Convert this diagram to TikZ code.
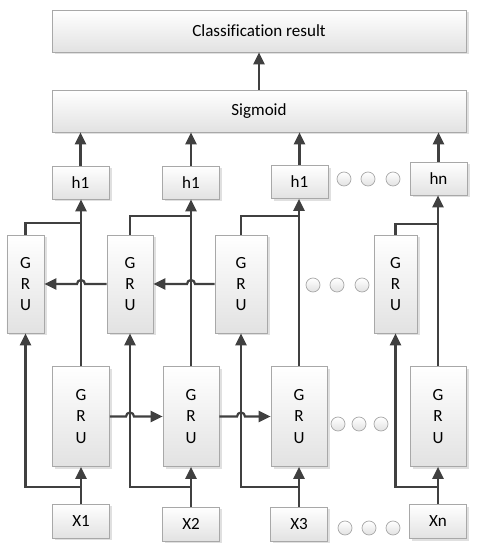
\documentclass[tikz,border=0pt]{standalone}
\usepackage{fontspec}
\setmainfont{Carlito}[Ligatures=NoCommon]
\usepackage{tikz}
\usetikzlibrary{arrows.meta,calc,shadows}
\definecolor{wiregray}{HTML}{404040}
\definecolor{boxedge}{HTML}{A8A8A8}
\definecolor{boxfill}{HTML}{E2E2E2}

\begin{document}
\begin{tikzpicture}[
  font=\fontsize{9.7}{12}\selectfont,
  box/.style={draw=boxedge, line width=0.4pt, top color=white, bottom color=boxfill,
    drop shadow={shadow xshift=0.05cm, shadow yshift=-0.05cm, fill=black, opacity=0.12},
    inner sep=0pt, align=center},
  widebox/.style={box, minimum width=8.28cm, minimum height=0.84cm},
  smallbox/.style={box, minimum width=1.14cm, minimum height=0.66cm},
  grubox/.style={box, minimum height=1.96cm},
  dot/.style={circle, draw=boxedge, line width=0.4pt, top color=white, bottom color=boxfill,
    minimum size=0.28cm, inner sep=0pt},
  wire/.style={draw=wiregray, line width=1.25pt},
  flow/.style={wire, -{Triangle[length=0.24cm,width=0.22cm]}}
]
\useasboundingbox (0,0) rectangle (9.62,11);

% output side
\node[widebox] (res) at (5.18,10.38) {Classification result};
\node[widebox] (sig) at (5.18,8.78) {Sigmoid};
\node[smallbox] (h1) at (1.61,7.35) {h1};
\node[smallbox] (h2) at (3.82,7.35) {h1};
\node[smallbox] (h3) at (5.99,7.36) {h1};
\node[smallbox] (hn) at (8.77,7.43) {hn};

% backward GRUs
\node[grubox, minimum width=0.74cm] (bw1) at (0.51,5.32) {G\\R\\U};
\node[grubox, minimum width=0.92cm] (bw2) at (2.60,5.32) {G\\R\\U};
\node[grubox, minimum width=1.04cm] (bw3) at (4.82,5.32) {G\\R\\U};
\node[grubox, minimum width=0.86cm] (bw4) at (7.91,5.32) {G\\R\\U};

% forward GRUs
\node[grubox, minimum width=1.14cm, minimum height=2cm] (fw1) at (1.62,2.67) {G\\R\\U};
\node[grubox, minimum width=1.12cm, minimum height=2cm] (fw2) at (3.82,2.67) {G\\R\\U};
\node[grubox, minimum width=1.12cm, minimum height=2cm] (fw3) at (5.98,2.67) {G\\R\\U};
\node[grubox, minimum width=1.12cm, minimum height=2cm] (fw4) at (8.76,2.67) {G\\R\\U};

% inputs
\node[smallbox, minimum height=0.68cm] (x1) at (1.62,0.58) {X1};
\node[smallbox, minimum height=0.68cm] (x2) at (3.82,0.52) {X2};
\node[smallbox, minimum height=0.68cm] (x3) at (5.98,0.52) {X3};
\node[smallbox, minimum height=0.68cm] (xn) at (8.76,0.57) {Xn};

% dots
\foreach \i/\x in {1/6.88,2/7.36,3/7.86} \node[dot] (dh\i) at (\x,7.42) {};
\foreach \i/\x in {1/6.26,2/6.74,3/7.24} \node[dot] (db\i) at (\x,5.30) {};
\foreach \i/\x in {1/6.76,2/7.18,3/7.62} \node[dot] (df\i) at (\x,2.52) {};
\foreach \i/\x in {1/6.90,2/7.38,3/7.86} \node[dot] (dx\i) at (\x,0.44) {};

% split and join points
\coordinate (split1) at (1.62,1.26);
\coordinate (split2) at (3.82,1.26);
\coordinate (split3) at (5.98,1.26);
\coordinate (split4) at (8.76,1.26);
\coordinate (join1) at (1.62,6.54);
\coordinate (join2) at (3.82,6.68);
\coordinate (join3) at (5.98,6.68);
\coordinate (join4) at (8.76,6.52);

% inputs into both directions
\draw[flow] (x1) -- (fw1);
\draw[flow] (x2) -- (fw2);
\draw[flow] (x3) -- (fw3);
\draw[flow] (xn) -- (fw4);
\draw[flow] (split1) -| (bw1);
\draw[flow] (split2) -| (bw2);
\draw[flow] (split3) -| (bw3);
\draw[flow] (split4) -| (bw4);

% states up to h
\draw[flow] (fw1) -- (fw1 |- h1.south);
\draw[flow] (fw2) -- (fw2 |- h2.south);
\draw[flow] (fw3) -- (fw3 |- h3.south);
\draw[flow] (fw4) -- (fw4 |- hn.south);
\draw[wire] (bw1) |- (join1);
\draw[wire] (bw2) |- (join2);
\draw[wire] (bw3) |- (join3);
\draw[wire] (bw4) |- (join4);

% forward chain
\draw[flow] (fw1.east) -- ($(fw1.east -| bw2)+(-0.08,0)$) arc[start angle=180,end angle=0,radius=0.08cm] -- (fw2.west);
\draw[flow] (fw2.east) -- ($(fw2.east -| bw3)+(-0.08,0)$) arc[start angle=180,end angle=0,radius=0.08cm] -- (fw3.west);

% backward chain
\draw[flow] (bw2.west) -- ($(bw2.west -| fw1)+(0.08,0)$) arc[start angle=0,end angle=180,radius=0.08cm] -- (bw1.east);
\draw[flow] (bw3.west) -- ($(bw3.west -| fw2)+(0.08,0)$) arc[start angle=0,end angle=180,radius=0.08cm] -- (bw2.east);

% to the output
\draw[flow] (h1) -- (h1 |- sig.south);
\draw[flow] (h2) -- (h2 |- sig.south);
\draw[flow] (h3) -- (h3 |- sig.south);
\draw[flow] (hn) -- (hn |- sig.south);
\draw[flow] (sig) -- (res);
\end{tikzpicture}
\end{document}
